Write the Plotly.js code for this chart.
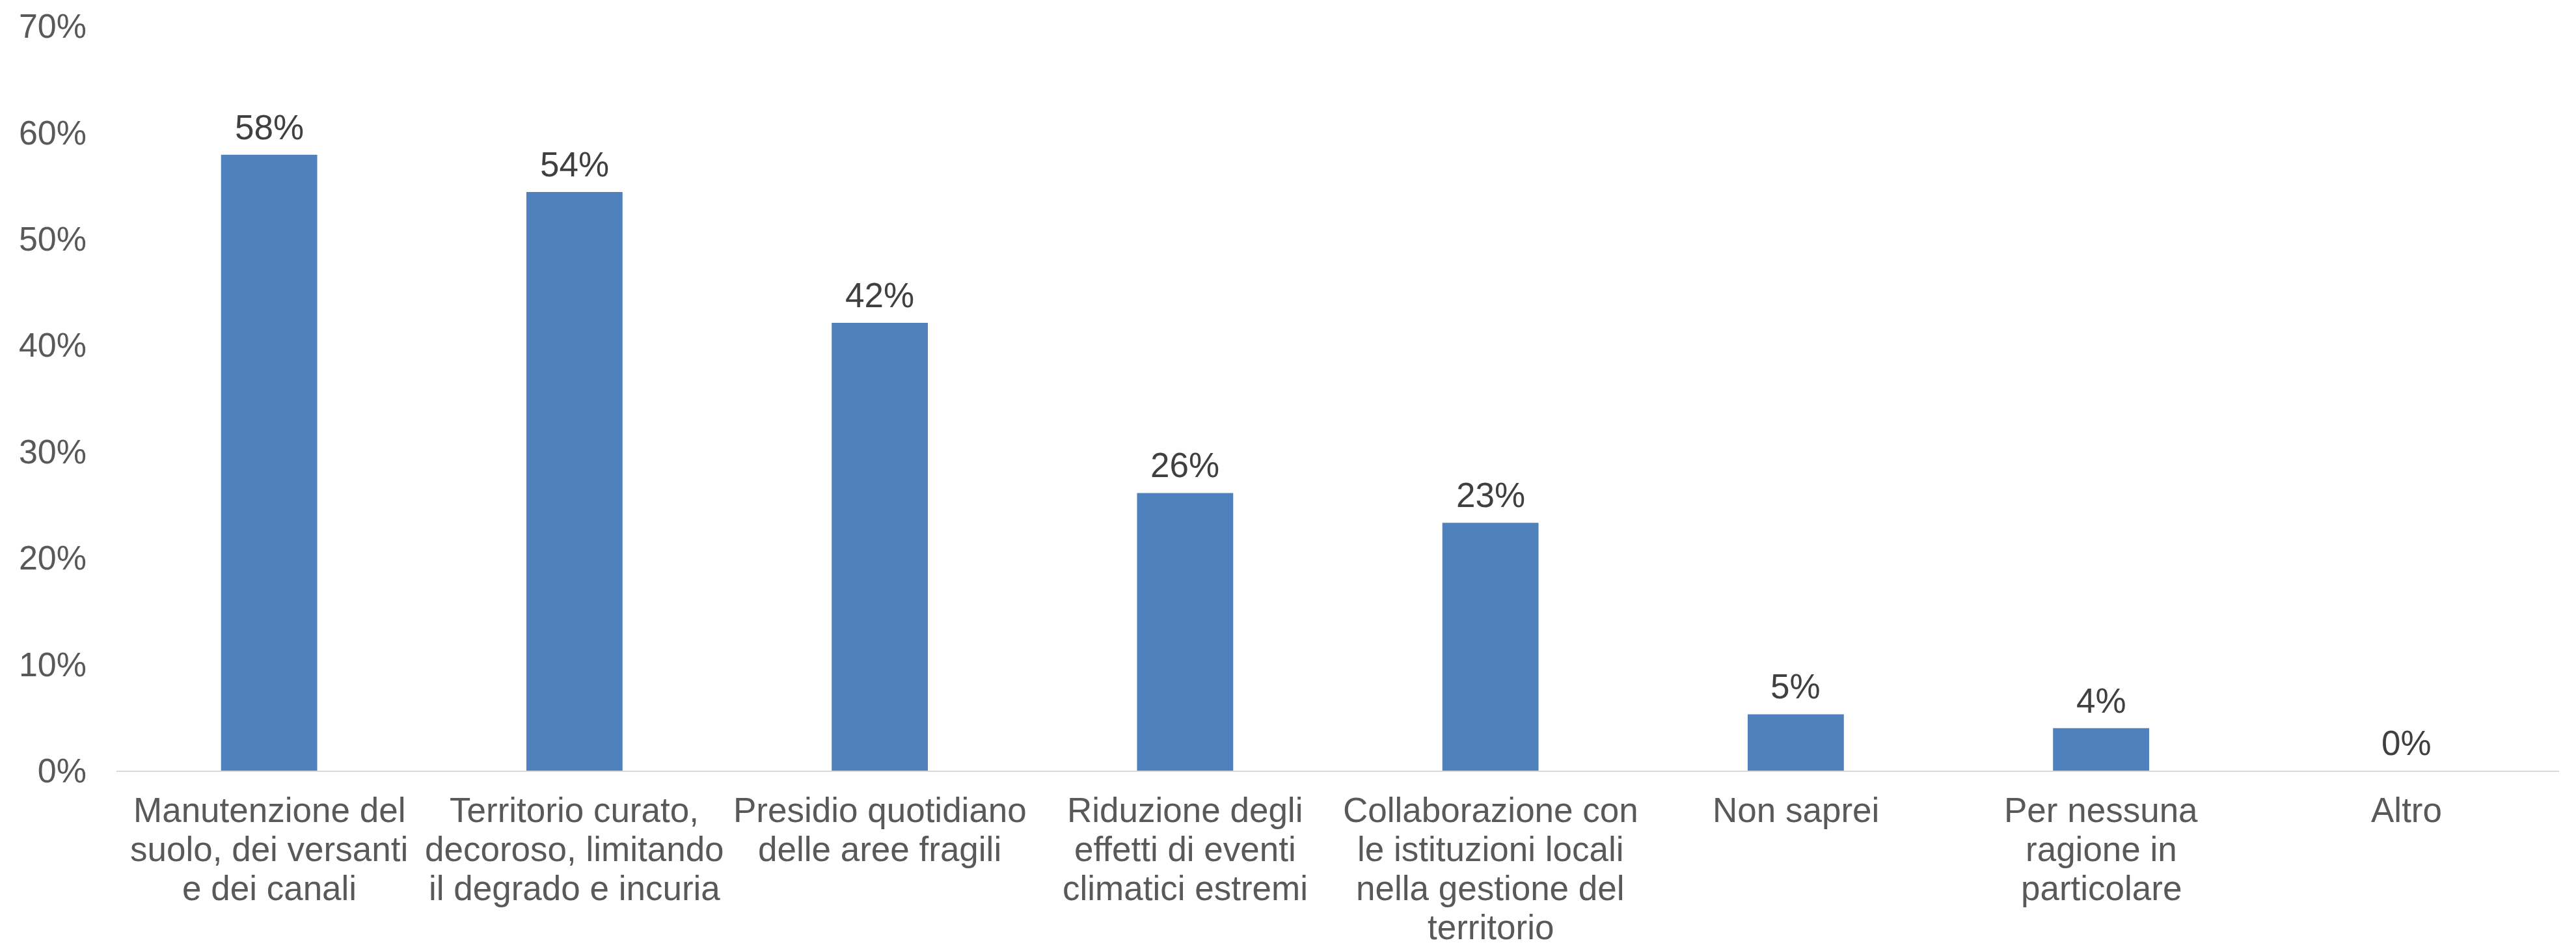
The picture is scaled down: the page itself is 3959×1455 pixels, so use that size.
<!DOCTYPE html>
<html>
<head>
<meta charset="utf-8">
<script src="https://cdn.plot.ly/plotly-3.0.1.min.js"></script>
<style>html,body{margin:0;padding:0;background:#fff;}#chart{width:3959px;height:1455px;}</style>
</head>
<body>
<div id="chart"></div>
<script>
// Categories (line breaks as in the original chart)
const categories = [
  "Manutenzione del\nsuolo, dei versanti\ne dei canali",
  "Territorio curato,\ndecoroso, limitando\nil degrado e incuria",
  "Presidio quotidiano\ndelle aree fragili",
  "Riduzione degli\neffetti di eventi\nclimatici estremi",
  "Collaborazione con\nle istituzioni locali\nnella gestione del\nterritorio",
  "Non saprei",
  "Per nessuna\nragione in\nparticolare",
  "Altro"
];
// Shares (fraction of respondents)
const values = [0.579, 0.544, 0.421, 0.261, 0.233, 0.053, 0.040, 0.0];
// Y-axis ticks
const yTickVals = [0, 0.1, 0.2, 0.3, 0.4, 0.5, 0.6, 0.7];
const yTickText = ["0%", "10%", "20%", "30%", "40%", "50%", "60%", "70%"];

const FONT = "Liberation Sans, Arial, sans-serif";
const LINE_H = 60;

const annotations = [];
// data labels
categories.forEach((c, i) => {
  annotations.push({
    x: c, y: values[i], xref: 'x', yref: 'y',
    text: Math.round(values[i] * 100) + '%',
    showarrow: false, yanchor: 'bottom', xanchor: 'center', yshift: 11,
    font: {family: FONT, size: 53, color: '#404040'}
  });
});
// category labels, one annotation per line
categories.forEach((c) => {
  c.split('\n').forEach((line, j) => {
    annotations.push({
      x: c, y: 0, xref: 'x', yref: 'y',
      text: line, showarrow: false, yanchor: 'top', xanchor: 'center',
      borderpad: 0,
      yshift: -30 - j * LINE_H,
      font: {family: FONT, size: 53, color: '#595959'}
    });
  });
});

const trace = {
  type: 'bar',
  x: categories,
  y: values,
  marker: {color: '#4F81BD'},
  hoverinfo: 'skip'
};

const layout = {
  width: 3959, height: 1455,
  autosize: false,
  margin: {l: 179, r: 26, t: 40, b: 271, pad: 0},
  paper_bgcolor: '#ffffff', plot_bgcolor: '#ffffff',
  showlegend: false,
  bargap: 0.685,
  font: {family: FONT, color: '#595959'},
  xaxis: {
    type: 'category',
    showticklabels: false,
    showgrid: false, zeroline: false,
    showline: true, linecolor: '#D9D9D9', linewidth: 2,
    ticks: ''
  },
  yaxis: {
    range: [0, 0.7],
    tickvals: yTickVals, ticktext: yTickText,
    showgrid: false, zeroline: false, showline: false,
    ticks: '', ticklabelstandoff: 45,
    tickfont: {family: FONT, size: 52, color: '#595959'}
  },
  annotations: annotations
};

Plotly.newPlot('chart', [trace], layout, {staticPlot: true, displayModeBar: false});
</script>
</body>
</html>
